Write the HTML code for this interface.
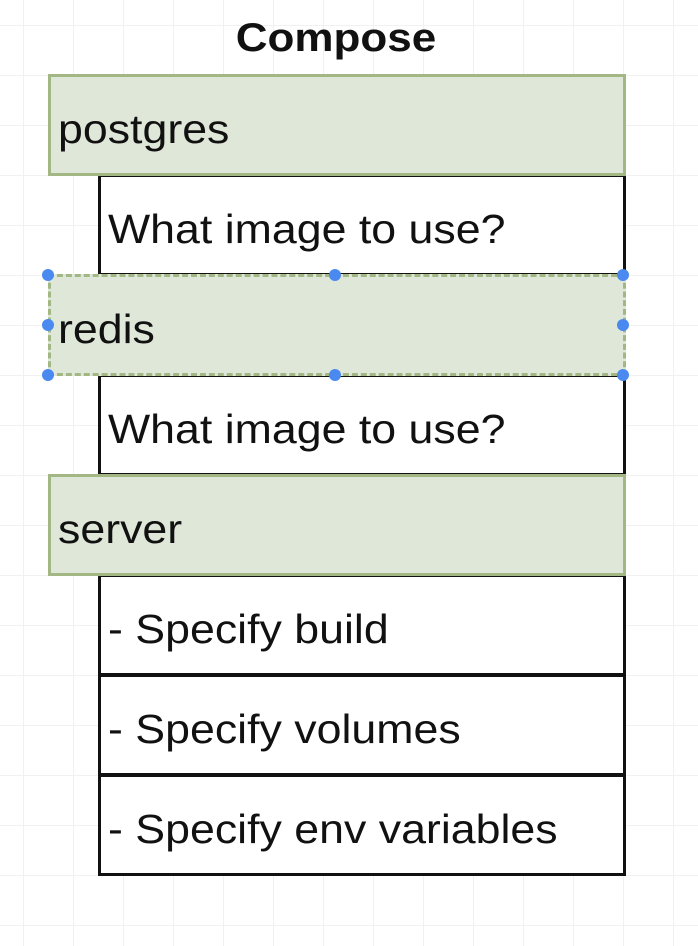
<!DOCTYPE html>
<html><head><style>
html,body{margin:0;padding:0}
body{width:698px;height:946px;position:relative;background:#fff;overflow:hidden;font-family:"Liberation Sans",Arial,sans-serif;
background-image:linear-gradient(#f1f1f1 1px,transparent 1px),linear-gradient(90deg,#f1f1f1 1px,transparent 1px);background-size:50px 50px;background-position:23px 25px}
.b{position:absolute;box-sizing:border-box;display:flex;align-items:center;font-size:41px;color:#111;padding-top:8px}
.b span{display:inline-block;transform:scaleX(1.09);transform-origin:left center;white-space:nowrap}
.g{left:48px;width:578px;height:102px;background:#dfe7d9;border:3px solid #a2b784;padding-left:7px}
.w{left:98px;width:528px;height:102px;background:#fff;border:3px solid #111;padding-left:7px}
.h{position:absolute;width:12px;height:12px;border-radius:50%;background:#4a8af0}
</style></head><body>
<div style="position:absolute;left:336px;top:16px;font-weight:bold;font-size:40px;color:#111;transform:translateX(-50%) scaleX(1.1);white-space:nowrap">Compose</div>
<div class="b w" style="top:174px"><span>What image to use?</span></div>
<div class="b w" style="top:374px"><span>What image to use?</span></div>
<div class="b w" style="top:574px"><span>- Specify build</span></div>
<div class="b w" style="top:674px"><span>- Specify volumes</span></div>
<div class="b w" style="top:774px"><span>- Specify env variables</span></div>
<div class="b g" style="top:74px"><span>postgres</span></div>
<div class="b g" style="top:274px;border-style:dashed"><span>redis</span></div>
<div class="b g" style="top:474px"><span>server</span></div>
<div class="h" style="left:42px;top:269px"></div>
<div class="h" style="left:329px;top:269px"></div>
<div class="h" style="left:617px;top:269px"></div>
<div class="h" style="left:42px;top:319px"></div>
<div class="h" style="left:617px;top:319px"></div>
<div class="h" style="left:42px;top:369px"></div>
<div class="h" style="left:329px;top:369px"></div>
<div class="h" style="left:617px;top:369px"></div>
</body></html>
